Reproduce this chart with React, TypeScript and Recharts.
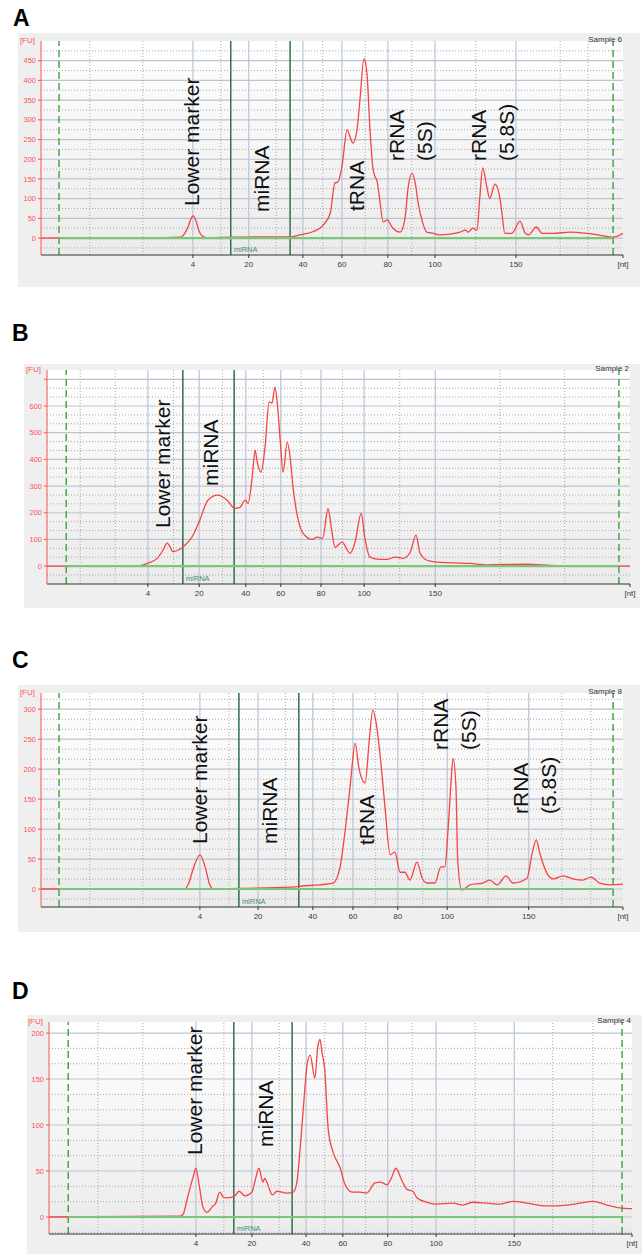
import React from "react";
import { LineChart, Line, XAxis, YAxis, ReferenceLine, CartesianGrid } from "recharts";

// x = migration position on a 0-100 scale across each plot, y = fluorescence [FU]
const A_POS = [0, 10.1, 18.7, 23.9, 24.7, 25.3, 25.8, 26.1, 26.6, 27.1, 27.7, 28.4, 32.5, 37.6, 42.8, 44.5, 46.7, 48.5, 49.7, 50.5, 51.0, 51.7, 52.6, 53.1, 53.6, 54.3, 54.8, 55.5, 56.0, 56.5, 57.0, 57.4, 57.7, 58.2, 58.8, 59.5, 60.3, 61.7, 62.5, 63.1, 63.7, 64.3, 64.8, 65.6, 66.3, 67.4, 68.6, 70.3, 72.0, 72.9, 73.4, 74.2, 74.9, 75.4, 75.9, 76.6, 77.1, 78.0, 78.9, 79.2, 79.7, 80.9, 82.3, 83.2, 83.8, 85.1, 86.1, 88.0, 90.9, 93.8, 97.8, 98.3, 100]
const A_FU = [0, 1, 0, 2, 12, 30, 50, 56, 45, 20, 5, 1, 2, 3, 3, 8, 16, 33, 63, 140, 142, 181, 275, 257, 241, 275, 351, 455, 419, 282, 181, 155, 147, 97, 41, 46, 28, 15, 46, 130, 165, 140, 89, 38, 15, 12, 8, 10, 15, 20, 15, 25, 20, 104, 178, 130, 100, 137, 97, 63, 12, 12, 43, 12, 8, 28, 12, 12, 15, 12, 3, 2, 12]

const B_POS = [0, 15.4, 17.2, 18.9, 19.9, 20.6, 21.1, 21.6, 22.8, 23.7, 24.9, 26.2, 27.6, 29.3, 30.9, 32.2, 33.1, 34.0, 34.5, 35.2, 35.7, 36.0, 36.7, 37.4, 38.1, 38.6, 39.1, 39.5, 40.0, 40.5, 41.2, 41.7, 42.2, 43.1, 43.9, 45.5, 46.3, 47.3, 48.2, 48.8, 49.4, 50.6, 52.0, 52.8, 53.9, 54.5, 55.4, 57.1, 58.3, 59.7, 61.1, 62.3, 63.3, 64.0, 65.2, 66.9, 72.6, 75.5, 82.3, 86.3, 89.7, 100]
const B_FU = [0, 0, 10, 29, 60, 86, 73, 54, 63, 79, 110, 172, 247, 266, 247, 216, 220, 247, 235, 334, 435, 397, 352, 446, 615, 611, 671, 611, 472, 352, 465, 409, 296, 172, 124, 100, 109, 105, 215, 140, 70, 90, 48, 86, 198, 109, 34, 25, 25, 34, 29, 52, 116, 48, 22, 15, 10, 5, 7, 3, 0, 0]

const C_POS = [0, 24.7, 25.4, 26.1, 27.3, 28.2, 29.0, 29.6, 34.2, 42.8, 44.8, 47.9, 50.2, 51.4, 52.2, 53.1, 54.0, 54.6, 55.7, 56.4, 57.0, 57.7, 58.4, 59.1, 60.0, 60.8, 61.7, 62.5, 63.4, 64.6, 65.5, 66.3, 67.7, 68.7, 69.4, 69.9, 70.4, 70.8, 71.3, 71.6, 72.3, 73.7, 75.9, 77.1, 78.4, 79.9, 81.1, 83.5, 84.4, 85.1, 85.7, 86.9, 88.0, 89.7, 91.4, 93.1, 94.5, 96.0, 97.8, 100]
const C_FU = [0, 0, 10, 32, 57, 37, 7, 0, 1, 3, 5, 7, 10, 37, 93, 170, 243, 203, 177, 248, 298, 270, 210, 137, 57, 62, 28, 28, 15, 45, 18, 10, 10, 37, 37, 93, 170, 218, 170, 48, -2, 7, 10, 15, 7, 22, 10, 18, 60, 82, 60, 27, 17, 22, 17, 15, 20, 10, 7, 8]

const D_POS = [0, 22.5, 23.0, 23.8, 24.7, 25.2, 25.7, 26.4, 27.1, 28.0, 28.6, 29.3, 30.0, 31.0, 31.9, 32.6, 33.6, 34.8, 35.3, 36.0, 36.7, 37.0, 37.6, 38.3, 39.1, 40.8, 41.9, 42.5, 43.1, 43.6, 44.3, 44.8, 45.6, 46.1, 46.5, 46.8, 47.3, 47.9, 48.7, 49.9, 50.8, 52.0, 53.3, 54.5, 55.9, 56.8, 58.0, 58.7, 59.5, 60.5, 61.4, 62.4, 63.1, 64.8, 66.2, 69.3, 71.0, 72.7, 75.1, 77.4, 79.6, 82.0, 85.4, 88.9, 91.1, 93.3, 95.7, 97.9, 100]
const D_FU = [0, 1, 3, 22, 43, 53, 37, 11, 5, 11, 15, 27, 21, 21, 23, 28, 23, 27, 38, 53, 38, 42, 34, 24, 28, 26, 27, 37, 76, 116, 167, 176, 151, 185, 193, 180, 160, 95, 71, 54, 35, 27, 27, 26, 37, 38, 35, 42, 53, 40, 30, 28, 21, 16, 14, 15, 13, 16, 15, 14, 17, 15, 12, 13, 15, 17, 13, 10, 9]

// size ladder ticks (position on the 0-100 scale) and their labels
const NT_LABELS = ["4", "20", "40", "60", "80", "100", "150", "[nt]"]
const A_TICKS = [26.1, 35.7, 45.0, 51.7, 59.6, 67.7, 81.6, 100]
const B_TICKS = [17.3, 26.1, 34.1, 40.1, 47.0, 54.4, 66.6, 100]
const C_TICKS = [27.3, 37.3, 46.7, 53.6, 61.3, 69.8, 83.8, 100]
const D_TICKS = [25.2, 34.8, 44.1, 50.4, 58.1, 66.4, 79.8, 100]

const A_Y_TICKS = [0, 50, 100, 150, 200, 250, 300, 350, 400, 450]
const B_Y_TICKS = [0, 100, 200, 300, 400, 500, 600, 700]
const C_Y_TICKS = [0, 50, 100, 150, 200, 250, 300]
const D_Y_TICKS = [0, 50, 100, 150, 200]

// lower/upper marker (dashed) and miRNA window (solid)
const A_MARKERS = [3.1, 98.3]
const B_MARKERS = [3.3, 98.1]
const C_MARKERS = [3.1, 98.3]
const D_MARKERS = [3.3, 98.3]
const A_MIRNA = [32.6, 42.8]
const B_MIRNA = [23.3, 32.1]
const C_MIRNA = [34.0, 44.3]
const D_MIRNA = [31.7, 41.7]

const A_X_MINOR = [8.4, 17.5, 30.9, 40.4, 48.4, 55.7, 63.7, 74.7, 89.2, 94.0]
const B_X_MINOR = [5.7, 11.7, 21.7, 30.1, 37.1, 43.6, 50.7, 60.5, 77.7, 88.8]
const C_X_MINOR = [8.4, 17.5, 32.3, 42.0, 50.2, 57.5, 65.6, 76.8, 89.5, 94.5]
const D_X_MINOR = [8.4, 16.1, 30.0, 39.5, 47.3, 54.3, 62.3, 73.1, 86.4, 93.3]

const range = (from: number, to: number, step: number) => {
  const out: number[] = []
  for (let v = from; v <= to + 1e-6; v += step) out.push(Math.round(v * 10) / 10)
  return out
}
const thirds = (from: number, to: number, step: number) =>
  range(from, to, step / 3).filter((v) => Math.abs(v / step - Math.round(v / step)) > 0.05)

const FONT = "'Liberation Sans', Arial, sans-serif"
const RED = "#f54444"
const AXIS_RED = "#ff5252"
const GRID = "#b9c5d5"
const DOT = "#a9a9a9"

type Note = { text: string; cx: number; bottom: number }

const PANELS = [
  {
    letter: "A", letterAt: [13, 7], sample: "Sample 6",
    pos: A_POS, fu: A_FU, ticks: A_TICKS, yTicks: A_Y_TICKS, yDomain: [-43, 500],
    yMinor: range(-25, 475, 50), markers: A_MARKERS, mirna: A_MIRNA, xMinor: A_X_MINOR,
    box: { l: 18, t: 33, r: 640, b: 287 }, plot: { l: 41, r: 623, t: 41, b: 255 },
    notes: [
      { text: "Lower marker", cx: 192, bottom: 205 },
      { text: "miRNA", cx: 262, bottom: 211 },
      { text: "tRNA", cx: 357, bottom: 210 },
      { text: "rRNA\n(5S)", cx: 397, bottom: 160 },
      { text: "rRNA\n(5.8S)", cx: 479, bottom: 160 },
    ] as Note[],
  },
  {
    letter: "B", letterAt: [12, 322], sample: "Sample 2",
    pos: B_POS, fu: B_FU, ticks: B_TICKS, yTicks: B_Y_TICKS, yDomain: [-67, 735],
    yMinor: thirds(-33.3, 733, 100), markers: B_MARKERS, mirna: B_MIRNA, xMinor: B_X_MINOR,
    box: { l: 24, t: 364, r: 640, b: 608 }, plot: { l: 47, r: 630, t: 370, b: 584 },
    notes: [
      { text: "Lower marker", cx: 163, bottom: 527 },
      { text: "miRNA", cx: 211, bottom: 485 },
    ] as Note[],
  },
  {
    letter: "C", letterAt: [12, 649], sample: "Sample 8",
    pos: C_POS, fu: C_FU, ticks: C_TICKS, yTicks: C_Y_TICKS, yDomain: [-30, 327],
    yMinor: thirds(-16.7, 320, 50), markers: C_MARKERS, mirna: C_MIRNA, xMinor: C_X_MINOR,
    box: { l: 18, t: 685, r: 640, b: 932 }, plot: { l: 41, r: 623, t: 693, b: 907 },
    notes: [
      { text: "Lower marker", cx: 200, bottom: 843 },
      { text: "miRNA", cx: 270, bottom: 843 },
      { text: "tRNA", cx: 367, bottom: 844 },
      { text: "rRNA\n(5S)", cx: 441, bottom: 749 },
      { text: "rRNA\n(5.8S)", cx: 521, bottom: 813 },
    ] as Note[],
  },
  {
    letter: "D", letterAt: [12, 980], sample: "Sample 4",
    pos: D_POS, fu: D_FU, ticks: D_TICKS, yTicks: D_Y_TICKS, yDomain: [-18.5, 212],
    yMinor: thirds(-16.7, 200, 50), markers: D_MARKERS, mirna: D_MIRNA, xMinor: D_X_MINOR,
    box: { l: 27, t: 1015, r: 642, b: 1254 }, plot: { l: 49, r: 632, t: 1022, b: 1234 },
    notes: [
      { text: "Lower marker", cx: 195, bottom: 1154 },
      { text: "miRNA", cx: 266, bottom: 1146 },
    ] as Note[],
  },
]

type P = (typeof PANELS)[number]

function Panel({ p }: { p: P }) {
  const data = p.pos.map((u, i) => ({ u, fu: p.fu[i] }))
  const chartTop = p.box.t
  const chartH = p.box.b - p.box.t
  const xAxisH = 20
  const margin = {
    top: p.plot.t - chartTop,
    right: 642 - p.plot.r,
    left: 0,
    bottom: chartH - (p.plot.b - chartTop) - xAxisH,
  }
  const gid = `bg${p.letter}`

  return (
    <>
      <div
        style={{
          position: "absolute", left: p.box.l, top: p.box.t,
          width: p.box.r - p.box.l, height: p.box.b - p.box.t, background: "#efefef",
        }}
      />
      <div style={{ position: "absolute", left: 0, top: chartTop }}>
        <LineChart width={642} height={chartH} data={data} margin={margin} style={{ fontFamily: FONT }}>
          <defs>
            <linearGradient id={gid} x1="0" y1="0" x2="0" y2="1">
              <stop offset="0%" stopColor="#ffffff" />
              <stop offset="100%" stopColor="#ebebeb" />
            </linearGradient>
          </defs>
          <CartesianGrid horizontal={false} vertical={false} fill={`url(#${gid})`} />
          <XAxis
            type="number" dataKey="u" domain={[0, 100]} allowDataOverflow
            ticks={p.ticks} interval={0} height={xAxisH}
            tickFormatter={(v: number) => NT_LABELS[p.ticks.indexOf(v)] ?? ""}
            tick={{ fill: "#3a3a3a", fontSize: 8 }}
            tickSize={3} tickMargin={3}
            axisLine={{ stroke: "#333" }} tickLine={{ stroke: "#333" }}
          />
          <YAxis
            type="number" domain={p.yDomain} allowDataOverflow ticks={p.yTicks} interval={0}
            width={p.plot.l}
            tickFormatter={(v: number) => (p.letter === "B" && v === 700 ? "" : String(v))}
            tick={{ fill: AXIS_RED, fontSize: 7.5 }}
            tickSize={3} tickMargin={2}
            axisLine={{ stroke: AXIS_RED }} tickLine={{ stroke: AXIS_RED }}
          />
          {p.yMinor.map((v) => (
            <ReferenceLine key={`ym${v}`} y={v} stroke={DOT} strokeDasharray="1 2" />
          ))}
          {p.yTicks.map((v) => (
            <ReferenceLine key={`yM${v}`} y={v} stroke={GRID} strokeWidth={1.2} />
          ))}
          {p.xMinor.map((v) => (
            <ReferenceLine key={`xm${v}`} x={v} stroke={DOT} strokeDasharray="1 2" />
          ))}
          {p.ticks.slice(0, 7).map((v) => (
            <ReferenceLine key={`xM${v}`} x={v} stroke={GRID} strokeWidth={1.2} />
          ))}
          {p.markers.map((v) => (
            <ReferenceLine key={`mk${v}`} x={v} stroke="#47a847" strokeWidth={1.5} strokeDasharray="7 4" />
          ))}
          <ReferenceLine
            x={p.mirna[0]} stroke="#2f6f4f" strokeWidth={1.5}
            label={{ value: "miRNA", position: "insideBottomLeft", fill: "#3f8f6a", fontSize: 7.5, offset: 3 }}
          />
          <ReferenceLine x={p.mirna[1]} stroke="#2f6f4f" strokeWidth={1.5} />
          <Line
            type="monotone" dataKey="fu" stroke={RED} strokeWidth={1.3}
            dot={false} activeDot={false} isAnimationActive={false}
          />
          <ReferenceLine
            segment={[{ x: p.markers[0], y: 0 }, { x: p.markers[1], y: 0 }]}
            stroke="#7cc67c" strokeWidth={2.2}
          />
        </LineChart>
      </div>
      <div
        style={{
          position: "absolute", left: p.plot.l - 46, width: 40, top: p.plot.t - 5,
          textAlign: "right", fontFamily: FONT, fontSize: 8, lineHeight: "10px", color: AXIS_RED,
        }}
      >
        [FU]
      </div>
      <div
        style={{
          position: "absolute", left: p.plot.r - 81, width: 80, top: p.plot.t - 6,
          textAlign: "right", fontFamily: FONT, fontSize: 8, lineHeight: "10px", color: "#333",
        }}
      >
        {p.sample}
      </div>
      <div
        style={{
          position: "absolute", left: p.letterAt[0], top: p.letterAt[1],
          fontFamily: FONT, fontWeight: 700, fontSize: 23, lineHeight: "23px", color: "#000",
        }}
      >
        {p.letter}
      </div>
      {p.notes.map((n) => (
        <div
          key={n.text}
          style={{
            position: "absolute", left: n.cx - 14, top: n.bottom + 1,
            transform: "rotate(-90deg)", transformOrigin: "0 0",
            whiteSpace: "pre", fontFamily: FONT, fontSize: 21, lineHeight: "28px", color: "#111",
          }}
        >
          {n.text}
        </div>
      ))}
    </>
  )
}

export default function App() {
  return (
    <div style={{ position: "absolute", left: 0, top: 0, width: 642, height: 1254, background: "#fff", overflow: "hidden" }}>
      {PANELS.map((p) => (
        <Panel key={p.letter} p={p} />
      ))}
    </div>
  )
}
